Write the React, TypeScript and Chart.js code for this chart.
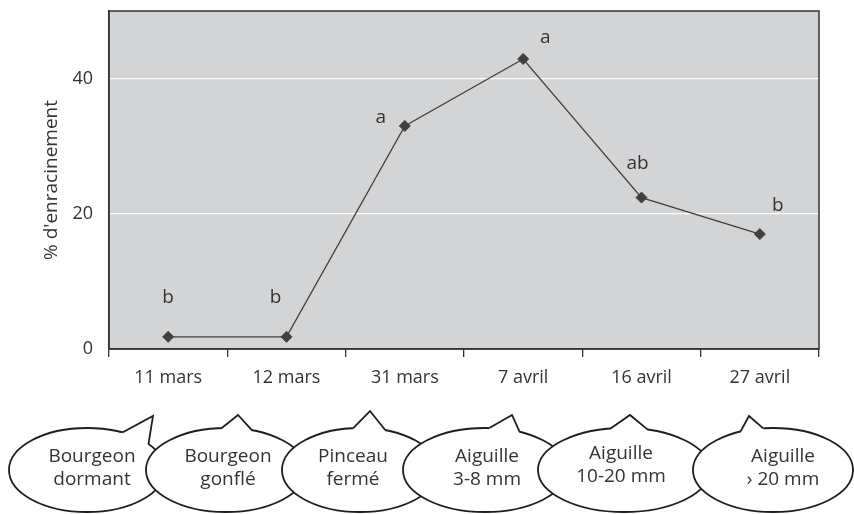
import { useEffect, useRef } from "react";
import { Chart, registerables } from "chart.js";

Chart.register(...registerables);

// ---- data ----
const CATEGORIES = ["11 mars", "12 mars", "31 mars", "7 avril", "16 avril", "27 avril"];
const ROOTING = [1.8, 1.8, 33, 42.9, 22.4, 17];
const SIGNIF = ["b", "b", "a", "a", "ab", "b"];
const Y_TICKS = [0, 20, 40];
const Y_MIN = 0;
const Y_MAX = 50;
const Y_TITLE = "% d'enracinement";
const STAGES = [
  ["Bourgeon", "dormant"],
  ["Bourgeon", "gonflé"],
  ["Pinceau", "fermé"],
  ["Aiguille", "3-8 mm"],
  ["Aiguille", "10-20 mm"],
  ["Aiguille", "› 20 mm"],
];

// ---- style ----
const FONT = "'Open Sans', sans-serif";
const TEXT = "#333333";
const PLOT_BG = "#d3d4d6";
const LINE = "#404040";
const LETTER_OFFSETS = [
  [0, -39],
  [-11, -39],
  [-24, -8],
  [22, -21],
  [-4, -34],
  [18, -28],
];
// bubble layout (decorative): centre x, radius x, spike base angles (deg), tip offset, text offset
const BUBBLE_CY = 470;
const BUBBLE_RY = 42;
const BUBBLES = [
  { cx: 87, rx: 78, a1: -63, a2: -38, tip: [66, -54], tx: 5, ty: 0 },
  { cx: 226, rx: 80, a1: -93, a2: -71, tip: [12, -55], tx: 2, ty: 0 },
  { cx: 360, rx: 78, a1: -95, a2: -71, tip: [10, -59], tx: -7, ty: 0 },
  { cx: 485, rx: 82, a1: -87, a2: -65, tip: [27, -55], tx: 2, ty: 0 },
  { cx: 624, rx: 86, a1: -99, a2: -74, tip: [6, -55], tx: -3, ty: -3 },
  { cx: 773, rx: 80, a1: -114, a2: -97, tip: [-24, -54], tx: 10, ty: 0 },
];

const plotFrame = {
  id: "plotFrame",
  beforeDraw(chart: any) {
    const { ctx, chartArea } = chart;
    const { left, top, width, height } = chartArea;
    ctx.save();
    ctx.fillStyle = PLOT_BG;
    ctx.fillRect(left, top, width, height);
    ctx.restore();
  },
  beforeDatasetsDraw(chart: any) {
    const { ctx, chartArea } = chart;
    const { left, top, right, bottom } = chartArea;
    ctx.save();
    ctx.strokeStyle = "#333333";
    ctx.lineWidth = 1.5;
    ctx.strokeRect(left, top, right - left, bottom - top);
    ctx.restore();
  },
};

const letters = {
  id: "letters",
  afterDatasetsDraw(chart: any) {
    const { ctx } = chart;
    const meta = chart.getDatasetMeta(0);
    ctx.save();
    ctx.font = `19px ${FONT}`;
    ctx.fillStyle = TEXT;
    ctx.textAlign = "center";
    ctx.textBaseline = "middle";
    meta.data.forEach((pt: any, i: number) => {
      const [dx, dy] = LETTER_OFFSETS[i];
      ctx.fillText(SIGNIF[i], pt.x + dx, pt.y + dy);
    });
    ctx.restore();
  },
};

const bubbles = {
  id: "bubbles",
  afterDraw(chart: any) {
    const { ctx } = chart;
    ctx.save();
    BUBBLES.forEach((b, i) => {
      const cy = BUBBLE_CY;
      const ry = BUBBLE_RY;
      ctx.lineWidth = 1.8;
      ctx.strokeStyle = "#1e1e1e";
      ctx.fillStyle = "#ffffff";
      ctx.beginPath();
      ctx.ellipse(b.cx, cy, b.rx, ry, 0, 0, Math.PI * 2);
      ctx.fill();
      ctx.stroke();
      const t1 = (b.a1 * Math.PI) / 180;
      const t2 = (b.a2 * Math.PI) / 180;
      const p1 = [b.cx + b.rx * Math.cos(t1), cy + ry * Math.sin(t1)];
      const p2 = [b.cx + b.rx * Math.cos(t2), cy + ry * Math.sin(t2)];
      const tip = [b.cx + b.tip[0], cy + b.tip[1]];
      // cover the ellipse outline under the spike
      ctx.beginPath();
      ctx.moveTo(p1[0], p1[1]);
      ctx.lineTo(tip[0], tip[1]);
      ctx.lineTo(p2[0], p2[1]);
      ctx.lineTo(b.cx + 0.85 * b.rx * Math.cos(t2), cy + 0.85 * ry * Math.sin(t2));
      ctx.lineTo(b.cx + 0.85 * b.rx * Math.cos(t1), cy + 0.85 * ry * Math.sin(t1));
      ctx.closePath();
      ctx.fill();
      ctx.beginPath();
      ctx.moveTo(p1[0], p1[1]);
      ctx.lineTo(tip[0], tip[1]);
      ctx.lineTo(p2[0], p2[1]);
      ctx.stroke();
      // text
      ctx.fillStyle = TEXT;
      ctx.font = `19px ${FONT}`;
      ctx.textAlign = "center";
      ctx.textBaseline = "alphabetic";
      const [l1, l2] = STAGES[i];
      ctx.fillText(l1, b.cx + b.tx, cy - 8 + b.ty);
      ctx.fillText(l2, b.cx + b.tx, cy + 15 + b.ty);
    });
    ctx.restore();
  },
};

export default function App() {
  const ref = useRef<HTMLCanvasElement | null>(null);
  useEffect(() => {
    if (!ref.current) return;
    const chart = new Chart(ref.current, {
      type: "line",
      data: {
        labels: CATEGORIES,
        datasets: [
          {
            data: ROOTING,
            borderColor: LINE,
            borderWidth: 1.3,
            tension: 0,
            pointStyle: "rectRot",
            pointRadius: 5.5,
            pointBackgroundColor: LINE,
            pointBorderColor: LINE,
            pointBorderWidth: 1,
          },
        ],
      },
      options: {
        animation: false,
        responsive: true,
        maintainAspectRatio: false,
        layout: { padding: { top: 11, right: 35, bottom: 0, left: 0 } },
        plugins: { legend: { display: false }, tooltip: { enabled: false } },
        scales: {
          x: {
            type: "category",
            offset: true,
            grid: {
              offset: true,
              drawOnChartArea: false,
              drawTicks: true,
              tickLength: 8,
              color: "#333333",
              lineWidth: 1.3,
            },
            border: { display: true, color: "#333333", width: 1.5 },
            ticks: {
              color: TEXT,
              font: { family: FONT, size: 18 },
              padding: 10,
              maxRotation: 0,
              autoSkip: false,
            },
            afterFit: (s: any) => {
              s.height = 165;
              s.paddingLeft = 0;
              s.paddingRight = 0;
            },
          },
          y: {
            type: "linear",
            min: Y_MIN,
            max: Y_MAX,
            afterBuildTicks: (s: any) => {
              s.ticks = Y_TICKS.map((v) => ({ value: v }));
            },
            grid: {
              color: "#ffffff",
              lineWidth: 1.2,
              drawTicks: false,
            },
            border: { display: true, color: "#333333", width: 1.5 },
            ticks: {
              color: TEXT,
              font: { family: FONT, size: 18 },
              padding: 16,
            },
            title: {
              display: true,
              text: Y_TITLE,
              color: TEXT,
              font: { family: FONT, size: 19 },
              padding: { top: 40, bottom: 0 },
            },
            afterFit: (s: any) => {
              s.width = 109;
              s.paddingTop = 0;
              s.paddingBottom = 0;
            },
          },
        },
      },
      plugins: [plotFrame, letters, bubbles],
    });
    return () => chart.destroy();
  }, []);
  return (
    <div style={{ position: "absolute", left: 0, top: 0, width: 854, height: 514 }}>
      <canvas ref={ref} />
    </div>
  );
}
